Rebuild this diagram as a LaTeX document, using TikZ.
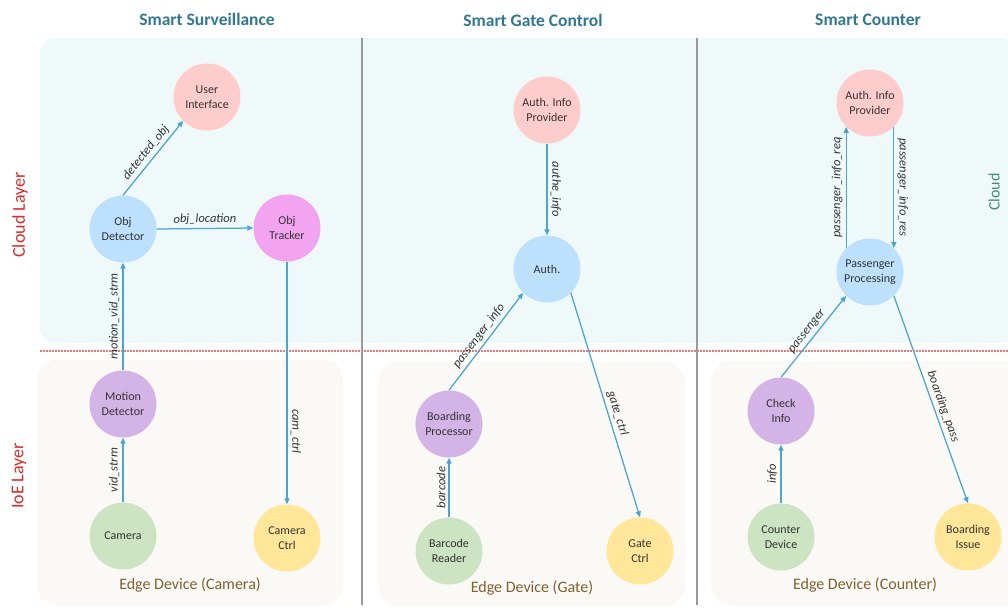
\documentclass[tikz,border=0pt]{standalone}
\usepackage{fontspec}
\setmainfont{Carlito}
\usetikzlibrary{arrows.meta}
\definecolor{titleblue}{RGB}{49,119,148}
\definecolor{layerred}{RGB}{220,40,40}
\definecolor{cloudtxt}{RGB}{70,140,115}
\definecolor{edgebrown}{RGB}{128,96,48}
\definecolor{cloudfill}{RGB}{240,249,249}
\definecolor{edgefill}{RGB}{251,249,245}
\definecolor{flowblue}{RGB}{75,165,210}
\definecolor{dotred}{RGB}{235,120,120}
\definecolor{pinkc}{RGB}{255,204,204}
\definecolor{bluec}{RGB}{189,224,253}
\definecolor{magc}{RGB}{243,164,240}
\definecolor{purc}{RGB}{212,180,230}
\definecolor{greenc}{RGB}{205,228,195}
\definecolor{yelc}{RGB}{255,230,153}
\begin{document}
\begin{tikzpicture}[x=1pt,y=-1pt,
                    unit/.style={circle,minimum size=67pt,inner sep=0pt,align=center,text=black!80,font=\fontsize{12}{15}\selectfont},
                    flow/.style={draw=flowblue,fill=flowblue,line width=1.25pt,-{Triangle[length=6pt,width=5pt]}},
                    lbl/.style={sloped,above,inner sep=3pt,text=black!80,font=\itshape\fontsize{12.5}{14}\selectfont},
                    title/.style={text=titleblue,font=\bfseries\fontsize{17.5}{20}\selectfont},
                    layer/.style={rotate=90,text=layerred,font=\fontsize{18}{20}\selectfont},
                    edgebox/.style={fill=edgefill,rounded corners=20pt},
                    edgetxt/.style={text=edgebrown,font=\fontsize{16}{18}\selectfont}
                  ]
                  \useasboundingbox (0,0) rectangle (1008,612);
                  % layers
                  \fill[cloudfill,rounded corners=15pt] (40,38) rectangle (1015,343);
                  \fill[edgebox] (37,360) rectangle (343,605);
                  \fill[edgebox] (378,362) rectangle (685,606);
                  \fill[edgebox] (711,361) rectangle (1040,605);
                  \draw[draw=dotred,dash pattern=on 1.5pt off 1.5pt,line width=1.2pt] (40,351) -- (1008,351);
                  \foreach \x in {362,697} \draw[black!40,line width=1.5pt] (\x,38) -- (\x,605);

                  \node[title] (t1) at (207,19) {Smart Surveillance};
                  \node[title] (t2) at (533,20) {Smart Gate Control};
                  \node[title] (t3) at (868,20) {Smart Counter};
                  \node[layer] (cl) at (20,215) {Cloud Layer};
                  \node[layer] (il) at (19,476) {IoE Layer};
                  \node[rotate=90,text=cloudtxt,font=\fontsize{16}{18}\selectfont] (cld) at (994,192) {Cloud};
                  \node[edgetxt] (e1) at (190,585) {Edge Device (Camera)};
                  \node[edgetxt] (e2) at (532,588) {Edge Device (Gate)};
                  \node[edgetxt] (e3) at (865,585) {Edge Device (Counter)};

                  % smart surveillance
                  \node[unit,fill=pinkc] (ui) at (207,97) {User\\Interface};
                  \node[unit,fill=bluec] (od) at (123,229) {Obj\\Detector};
                  \node[unit,fill=magc] (ot) at (287,228) {Obj\\Tracker};
                  \node[unit,fill=purc] (md) at (123,404) {Motion\\Detector};
                  \node[unit,fill=greenc] (cam) at (123,536) {Camera};
                  \node[unit,fill=yelc] (cc) at (287,538) {Camera\\Ctrl};
                  % smart gate control
                  \node[unit,fill=pinkc] (gaip) at (547,110) {Auth. Info\\Provider};
                  \node[unit,fill=bluec] (auth) at (547,269) {Auth.};
                  \node[unit,fill=purc] (bp) at (449,424) {Boarding\\Processor};
                  \node[unit,fill=greenc] (br) at (449,551) {Barcode\\Reader};
                  \node[unit,fill=yelc] (gc) at (640,551) {Gate\\Ctrl};
                  % smart counter
                  \node[unit,fill=pinkc] (caip) at (870,103) {Auth. Info\\Provider};
                  \node[unit,fill=bluec] (pp) at (870,272) {Passenger\\Processing};
                  \node[unit,fill=purc] (ci) at (781,411) {Check\\Info};
                  \node[unit,fill=greenc] (cd) at (781,537) {Counter\\Device};
                  \node[unit,fill=yelc] (bi) at (968,537) {Boarding\\Issue};

                  \foreach \a/\b/\t/\p in {od.north/ui.south west/detected\_obj/0.5,
                                           od.east/ot.west/obj\_location/0.5,
                                           md.north/od.south/motion\_vid\_strm/0.5,
                                           cam.north/md.south/vid\_strm/0.5,
                                           ot.south/cc.north/cam\_ctrl/0.7,
                                           gaip.south/auth.north/authe\_info/0.5,
                                           bp.north/auth.south west/passenger\_info/0.5,
                                           auth.south east/gc.north/gate\_ctrl/0.55,
                                           br.north/bp.south/barcode/0.5,
                                           pp.135/caip.225/passenger\_info\_req/0.5,
                                           caip.315/pp.45/passenger\_info\_res/0.5,
                                           ci.north/pp.south west/passenger/0.5,
                                           pp.south east/bi.north/boarding\_pass/0.55,
                                           cd.north/ci.south/info/0.5} {
                      \draw[flow] (\a) -- node[lbl,pos=\p] {\t} (\b);
                    }
                \end{tikzpicture}
\end{document}
